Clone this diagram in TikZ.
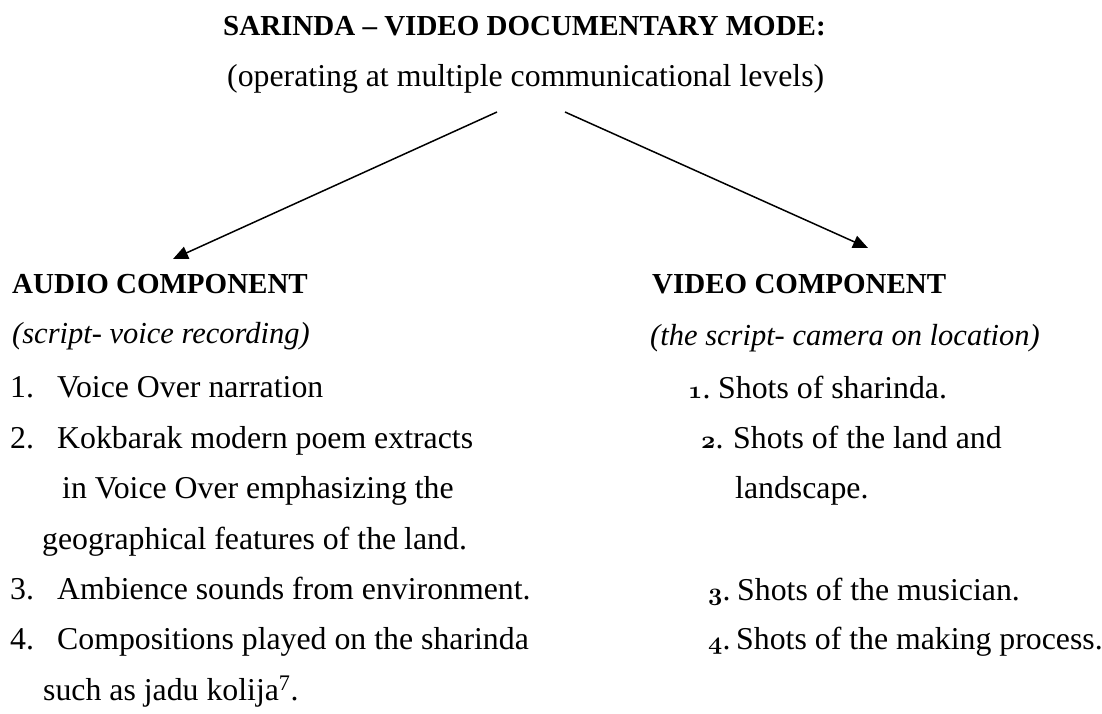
\documentclass[tikz,border=0pt]{standalone}
\usepackage{fontspec}
\setmainfont{Liberation Serif}
\usetikzlibrary{arrows.meta}
\newcommand\osn[1]{{\usefont{OML}{cmm}{b}{it}#1}}
\tikzset{
  txt/.style={anchor=base west, inner sep=0pt, font=\fontsize{31.8}{36}\selectfont},
  hd/.style={anchor=base west, inner sep=0pt, font=\fontsize{29}{34}\selectfont\bfseries},
  it/.style={anchor=base west, inner sep=0pt, font=\fontsize{30.5}{36}\selectfont\itshape},
  conn/.style={line width=1.5pt, -{Triangle[length=15pt,width=13pt]}}
}
\begin{document}
\begin{tikzpicture}[x=1pt,y=-1pt]
\useasboundingbox[fill=white] (0,0) rectangle (1102,713);
% title
\node[hd] (title) at (223,35) {SARINDA – VIDEO DOCUMENTARY MODE:};
\node[txt] (sub) at (227,86) {(operating at multiple communicational levels)};
% arrows
\coordinate (ls) at (497,112);
\coordinate (lt) at (173,259);
\coordinate (rs) at (565,112);
\coordinate (rt) at (868,248);
\draw[conn] (ls) -- (lt);
\draw[conn] (rs) -- (rt);
% left column
\node[hd] (audio) at (12,293) {AUDIO COMPONENT};
\node[it] (audiosub) at (12,343) {(script- voice recording)};
\node[txt] (a1n) at (10,397) {1.};
\node[txt] (a1) at (57,397) {Voice Over narration};
\node[txt] (a2n) at (10,448) {2.};
\node[txt] (a2) at (57,448) {Kokbarak modern poem extracts};
\node[txt] (a2b) at (62,498) {in Voice Over emphasizing the};
\node[txt] (a2c) at (42,549) {geographical features of the land.};
\node[txt] (a3n) at (10,599) {3.};
\node[txt] (a3) at (57,599) {Ambience sounds from environment.};
\node[txt] (a4n) at (10,649) {4.};
\node[txt] (a4) at (57,649) {Compositions played on the sharinda};
\node[txt] (a4b) at (43,700) {such as jadu kolija\textsuperscript{7}.};
% right column
\node[hd] (video) at (652,293) {VIDEO COMPONENT};
\node[it] (videosub) at (650,345) {(the script- camera on location)};
\node[txt] (v1n) at (688,398) {\osn{1}.};
\node[txt] (v1) at (718,398) {Shots of sharinda.};
\node[txt] (v2n) at (701,448) {\osn{2}.};
\node[txt] (v2) at (733,448) {Shots of the land and};
\node[txt] (v2b) at (735,498) {landscape.};
\node[txt] (v3n) at (708,600) {\osn{3}.};
\node[txt] (v3) at (737,600) {Shots of the musician.};
\node[txt] (v4n) at (708,649) {\osn{4}.};
\node[txt] (v4) at (736,649) {Shots of the making process.};
\end{tikzpicture}
\end{document}
